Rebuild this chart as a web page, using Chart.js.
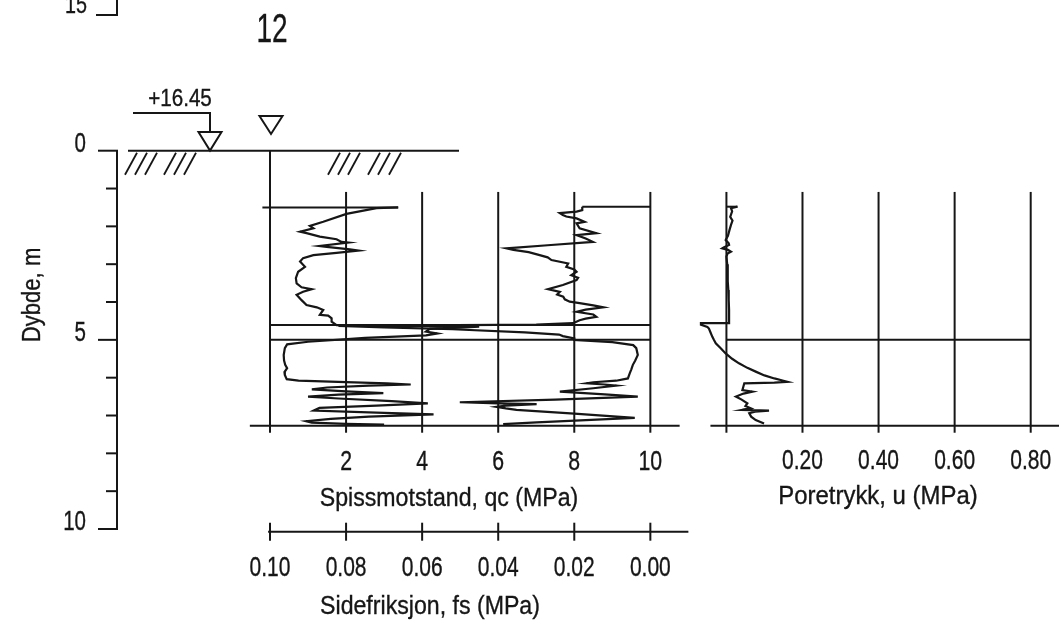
<!DOCTYPE html>
<html>
<head>
<meta charset="utf-8">
<script src="https://cdn.jsdelivr.net/npm/chart.js@4.4.1/dist/chart.umd.min.js"></script>
<style>
  html, body { margin: 0; padding: 0; background: #fff; }
  #wrap { position: relative; width: 1059px; height: 625px; }
</style>
</head>
<body>
<div id="wrap"><canvas id="cpt" width="1059" height="625"></canvas></div>
<script>
// sounding 12: depth (m) against tip resistance qc (MPa)
const qcDepth = [1.50, 1.52, 1.67, 1.88, 1.99, 2.05, 2.14, 2.18, 2.27, 2.34, 2.41, 2.43, 2.52, 2.54, 2.61, 2.64,
  2.70, 2.76, 2.84, 2.93, 3.07, 3.20, 3.37, 3.51, 3.61, 3.66, 3.73, 3.81, 3.95, 4.08, 4.14, 4.21, 4.34, 4.36,
  4.43, 4.52, 4.61, 4.63, 4.65, 4.68, 4.71, 4.78, 4.83, 4.88, 4.95, 5.05, 5.12, 5.22, 5.40, 5.55, 5.66, 5.75,
  5.85, 5.93, 6.04, 6.08, 6.12, 6.15, 6.18, 6.21, 6.26, 6.31, 6.36, 6.41, 6.45, 6.50, 6.55, 6.62, 6.68, 6.74,
  6.80, 6.87, 6.93, 6.97, 7.03, 7.09, 7.15, 7.19, 7.22, 7.24];
const qcValue = [3.37, 2.80, 2.01, 1.40, 1.05, 1.14, 0.79, 0.96, 1.31, 1.75, 1.88, 2.06, 1.31, 1.49, 2.10, 2.32,
  1.75, 1.14, 0.87, 0.79, 0.92, 0.74, 0.68, 0.70, 0.83, 1.10, 0.87, 0.70, 0.83, 0.96, 1.23, 1.40, 1.31, 1.53,
  1.62, 1.62, 1.75, 3.00, 5.50, 5.00, 4.20, 4.10, 4.40, 4.10, 2.50, 1.00, 0.45, 0.39, 0.36, 0.37, 0.40, 0.45,
  0.38, 0.39, 0.44, 0.75, 2.00, 3.07, 3.70, 2.60, 1.50, 1.10, 2.00, 2.98, 1.80, 1.00, 1.80, 3.20, 4.15, 2.80,
  1.30, 1.15, 3.00, 4.30, 2.60, 1.60, 0.95, 1.10, 2.00, 3.00];

// side friction fs (MPa)
const fsDepth = [1.48, 1.57, 1.61, 1.65, 1.70, 1.74, 1.79, 1.88, 1.92, 2.05, 2.18, 2.23, 2.32, 2.41, 2.50, 2.58,
  2.62, 2.68, 2.76, 2.82, 2.89, 2.98, 3.07, 3.14, 3.20, 3.29, 3.36, 3.42, 3.55, 3.66, 3.73, 3.80, 3.86, 3.93,
  3.99, 4.03, 4.09, 4.14, 4.20, 4.26, 4.33, 4.39, 4.44, 4.48, 4.56, 4.60, 4.63, 4.67, 4.72, 4.80, 4.86, 4.90,
  4.96, 5.00, 5.06, 5.14, 5.22, 5.40, 5.55, 5.66, 5.78, 5.88, 6.02, 6.08, 6.12, 6.15, 6.18, 6.21, 6.28, 6.37,
  6.44, 6.50, 6.58, 6.65, 6.68, 6.70, 6.74, 6.77, 6.81, 6.85, 6.95, 7.06, 7.12, 7.18, 7.23];
const fsValue = [0.0179, 0.0179, 0.0194, 0.0238, 0.0230, 0.0221, 0.0194, 0.0173, 0.0194, 0.0186, 0.0142, 0.0194,
  0.0170, 0.0151, 0.0270, 0.0378, 0.0360, 0.0320, 0.0291, 0.0270, 0.0260, 0.0216, 0.0221, 0.0200, 0.0194, 0.0208,
  0.0190, 0.0194, 0.0230, 0.0269, 0.0238, 0.0245, 0.0229, 0.0225, 0.0212, 0.0186, 0.0150, 0.0124, 0.0170, 0.0194,
  0.0150, 0.0142, 0.0170, 0.0186, 0.0203, 0.0300, 0.0820, 0.0700, 0.0520, 0.0330, 0.0240, 0.0230, 0.0200, 0.0200,
  0.0100, 0.0045, 0.0037, 0.0033, 0.0040, 0.0046, 0.0050, 0.0054, 0.0059, 0.0090, 0.0150, 0.0168, 0.0120, 0.0089,
  0.0150, 0.0238, 0.0120, 0.0033, 0.0250, 0.0501, 0.0400, 0.0299, 0.0380, 0.0404, 0.0380, 0.0352, 0.0200, 0.0041,
  0.0170, 0.0299, 0.0387];

// pore pressure u (MPa)
const uDepth = [1.48, 1.52, 1.60, 1.75, 1.85, 1.96, 2.10, 2.25, 2.36, 2.45, 2.49, 2.55, 2.58, 2.62, 2.67, 2.72,
  2.80, 3.00, 3.24, 3.45, 3.68, 3.95, 4.21, 4.45, 4.56, 4.56, 4.60, 4.66, 4.70, 4.80, 4.92, 5.00, 5.09, 5.22,
  5.36, 5.50, 5.62, 5.74, 5.84, 5.94, 6.02, 6.08, 6.11, 6.13, 6.15, 6.22, 6.33, 6.37, 6.42, 6.50, 6.58, 6.68,
  6.75, 6.81, 6.85, 6.87, 6.90, 6.94, 7.03, 7.12, 7.21];
const uValue = [0.029, 0.012, 0.015, 0.010, 0.016, 0.012, 0.008, 0.004, -0.002, 0.006, 0.007, -0.006, -0.011,
  0.004, 0.012, 0.003, 0.000, 0.002, 0.003, 0.004, 0.005, 0.006, 0.007, 0.007, 0.007, -0.067, -0.067, -0.050,
  -0.046, -0.042, -0.037, -0.033, -0.028, -0.015, -0.002, 0.015, 0.033, 0.055, 0.077, 0.100, 0.126, 0.150,
  0.161, 0.126, 0.047, 0.045, 0.042, 0.068, 0.045, 0.025, 0.040, 0.055, 0.050, 0.064, 0.042, 0.112, 0.075,
  0.060, 0.065, 0.077, 0.099];

const depthTicks = [0, 5, 10];
const qcTicks = [2, 4, 6, 8, 10];
const fsTicks = [0.10, 0.08, 0.06, 0.04, 0.02, 0.00];
const uTicks = [0.20, 0.40, 0.60, 0.80];
const layerDepths = [4.61, 5.0];
const endDepth = 7.27;

const INK = '#161616';
const FONT = '"Liberation Sans", Arial, sans-serif';

function pts(ys, xs) {
  return xs.map((v, i) => ({ x: v, y: ys[i] }));
}

// text squeezed sideways to look like the narrow drafting lettering
function txt(ctx, s, x, y, size, sx, align) {
  ctx.save();
  ctx.translate(x, y);
  ctx.scale(sx, 1);
  ctx.font = size + 'px ' + FONT;
  ctx.textAlign = align || 'center';
  ctx.textBaseline = 'middle';
  ctx.fillStyle = INK;
  ctx.strokeStyle = INK;
  ctx.lineWidth = 0.35;
  ctx.fillText(s, 0, 0);
  ctx.strokeText(s, 0, 0);
  ctx.restore();
}

function seg(ctx, x1, y1, x2, y2) {
  ctx.beginPath();
  ctx.moveTo(x1, y1);
  ctx.lineTo(x2, y2);
  ctx.stroke();
}

function tri(ctx, cx, top, h, w) {
  ctx.beginPath();
  ctx.moveTo(cx - w / 2, top);
  ctx.lineTo(cx + w / 2, top);
  ctx.lineTo(cx, top + h);
  ctx.closePath();
  ctx.stroke();
}

const drawing = {
  id: 'drawing',
  beforeDatasetsDraw(chart) {
    const { ctx, scales } = chart;
    const X = scales.x, F = scales.xfs, U = scales.xu, Y = scales.y;
    const y0 = Y.getPixelForValue(0);
    const yGrid = Y.getPixelForValue(1.09);
    const yEnd = Y.getPixelForValue(endDepth);
    ctx.save();
    ctx.strokeStyle = INK;
    ctx.lineWidth = 2;

    // depth axis
    const ax = 117;
    seg(ctx, ax, y0, ax, Y.getPixelForValue(10));
    for (let d = 0; d <= 10; d++) {
      const len = d % 5 === 0 ? 19 : 11;
      seg(ctx, ax - len, Y.getPixelForValue(d), ax + 1, Y.getPixelForValue(d));
    }
    // leftover bracket from the plot above
    seg(ctx, ax, 0, ax, 15);
    seg(ctx, 96, 15, ax + 1, 15);

    // ground line and hatching
    seg(ctx, 128, y0, 459, y0);
    ctx.lineWidth = 1.8;
    [137, 147, 157, 176, 186, 196, 340, 350, 360, 380, 390, 401].forEach(t => seg(ctx, t, y0 + 2, t - 12, y0 + 24));
    ctx.lineWidth = 2;

    // level marks
    const xs = X.getPixelForValue(0);
    tri(ctx, xs + 1, 116, 18, 23);
    tri(ctx, 210, 132, 18.5, 23);
    seg(ctx, 133, 113, 211, 113);
    seg(ctx, 210, 113, 210, 132);

    // qc / fs panel frame
    seg(ctx, xs, y0, xs, yEnd + 7);
    qcTicks.forEach(v => seg(ctx, X.getPixelForValue(v), yGrid, X.getPixelForValue(v), yEnd + 7));
    layerDepths.forEach(d => seg(ctx, xs, Y.getPixelForValue(d), X.getPixelForValue(10), Y.getPixelForValue(d)));
    seg(ctx, X.getPixelForValue(-0.53), yEnd, X.getPixelForValue(10.77), yEnd);
    // start connectors
    const yq = Y.getPixelForValue(qcDepth[0]);
    seg(ctx, X.getPixelForValue(-0.2), yq, X.getPixelForValue(qcValue[0]), yq);
    const yf = Y.getPixelForValue(fsDepth[0]);
    seg(ctx, F.getPixelForValue(fsValue[0]), yf, F.getPixelForValue(0), yf);

    // fs axis
    const fy = 531.7;
    seg(ctx, F.getPixelForValue(0.1005), fy, F.getPixelForValue(-0.01), fy);
    fsTicks.forEach(v => seg(ctx, F.getPixelForValue(v), fy - 9, F.getPixelForValue(v), fy + 9));

    // pore pressure panel frame
    const u0 = U.getPixelForValue(0);
    seg(ctx, u0, yGrid, u0, yEnd + 7);
    uTicks.forEach(v => seg(ctx, U.getPixelForValue(v), yGrid, U.getPixelForValue(v), yEnd + 7));
    seg(ctx, u0, Y.getPixelForValue(5.0), U.getPixelForValue(0.8), Y.getPixelForValue(5.0));
    seg(ctx, U.getPixelForValue(-0.042), yEnd, 1059, yEnd);
    const yu = Y.getPixelForValue(uDepth[0]);
    seg(ctx, u0, yu, U.getPixelForValue(uValue[0]), yu);
    ctx.restore();
  },
  afterDraw(chart) {
    const { ctx, scales } = chart;
    const X = scales.x, F = scales.xfs, U = scales.xu, Y = scales.y;
    txt(ctx, '15', 76, 6, 26, 0.76);
    txt(ctx, '12', 272, 31, 40, 0.7);
    txt(ctx, '+16.45', 180, 99, 24, 0.86);
    depthTicks.forEach(d => txt(ctx, String(d), 86, Y.getPixelForValue(d) - 6, 27, 0.76, 'right'));
    ctx.save();
    ctx.translate(33, 295);
    ctx.rotate(-Math.PI / 2);
    txt(ctx, 'Dybde, m', 0, 0, 26, 0.85);
    ctx.restore();
    qcTicks.forEach(v => txt(ctx, String(v), X.getPixelForValue(v), 462, 28, 0.76));
    txt(ctx, 'Spissmotstand, qc (MPa)', 449, 499, 26, 0.89);
    fsTicks.forEach(v => txt(ctx, v.toFixed(2), F.getPixelForValue(v), 568, 28, 0.75));
    txt(ctx, 'Sidefriksjon, fs (MPa)', 430, 607, 26, 0.89);
    uTicks.forEach(v => txt(ctx, v.toFixed(2), U.getPixelForValue(v), 461, 28, 0.75));
    txt(ctx, 'Poretrykk, u (MPa)', 878, 497, 26, 0.92);
  }
};

const line = { showLine: true, borderColor: INK, borderWidth: 2.2, pointRadius: 0, fill: false, tension: 0, clip: false };

new Chart(document.getElementById('cpt'), {
  type: 'scatter',
  data: {
    datasets: [
      Object.assign({ label: 'qc', data: pts(qcDepth, qcValue), xAxisID: 'x', yAxisID: 'y' }, line),
      Object.assign({ label: 'fs', data: pts(fsDepth, fsValue), xAxisID: 'xfs', yAxisID: 'y' }, line),
      Object.assign({ label: 'u', data: pts(uDepth, uValue), xAxisID: 'xu', yAxisID: 'y' }, line)
    ]
  },
  options: {
    responsive: false,
    animation: false,
    devicePixelRatio: 1,
    layout: { padding: { left: 270, right: 28.3, top: 150.7, bottom: 96 } },
    plugins: { legend: { display: false }, tooltip: { enabled: false } },
    scales: {
      x: { type: 'linear', axis: 'x', min: 0, max: 20, display: false },
      xfs: { type: 'linear', axis: 'x', min: -0.1, max: 0.1, reverse: true, display: false },
      xu: { type: 'linear', axis: 'x', min: -1.2, max: 0.8, display: false },
      y: { type: 'linear', axis: 'y', min: 0, max: 10, reverse: true, display: false }
    }
  },
  plugins: [drawing]
});
</script>
</body>
</html>
